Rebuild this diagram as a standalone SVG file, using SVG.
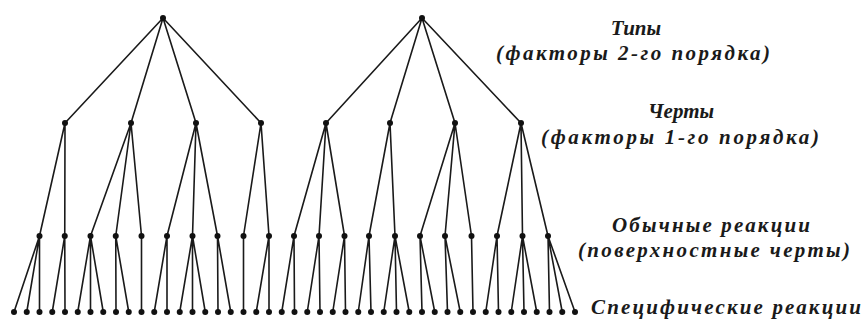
<svg xmlns="http://www.w3.org/2000/svg" width="864" height="320" viewBox="0 0 864 320">
<style>
.e{stroke:#1a1a1a;stroke-width:1.6;fill:none;stroke-linecap:round}
.n{fill:#111}
.t{font-family:"Liberation Serif","Times New Roman","DejaVu Serif",serif;font-style:italic;font-weight:bold;font-size:21px;fill:#1a1a1a;text-anchor:middle}
</style>
<rect width="864" height="320" fill="#fff"/>
<g id="connectors" class="e">
<path d="M163 18L65 123M163 18L131 123M163 18L196 123M163 18L261 123"/>
<path d="M422 18L326 123M422 18L390 123M422 18L455 123M422 18L521 123"/>
<path d="M65 123L39.5 236M65 123L64.75 236"/>
<path d="M131 123L90.5 236M131 123L115.75 236M131 123L141.5 236"/>
<path d="M196 123L167 236M196 123L192.5 236M196 123L217.5 236"/>
<path d="M261 123L243.5 236M261 123L269 236"/>
<path d="M326 123L294 236M326 123L319 236M326 123L344.5 236"/>
<path d="M390 123L369 236M390 123L395 236"/>
<path d="M455 123L420 236M455 123L445 236M455 123L471.5 236"/>
<path d="M521 123L497 236M521 123L522.5 236M521 123L548 236"/>
<path d="M39.5 236L14 312M39.5 236L26.75 312M39.5 236L39.5 312"/>
<path d="M64.75 236L52.25 312M64.75 236L65 312"/>
<path d="M90.5 236L77.75 312M90.5 236L90.5 312M90.5 236L103.25 312"/>
<path d="M115.75 236L116 312M115.75 236L128.75 312"/>
<path d="M141.5 236L141.5 312"/>
<path d="M167 236L154.25 312M167 236L167 312"/>
<path d="M192.5 236L179.75 312M192.5 236L192.5 312M192.5 236L205.25 312"/>
<path d="M217.5 236L218 312M217.5 236L230.75 312"/>
<path d="M243.5 236L243.5 312"/>
<path d="M269 236L256.25 312M269 236L269 312"/>
<path d="M294 236L281.75 312M294 236L294.5 312"/>
<path d="M319 236L307.25 312M319 236L320 312"/>
<path d="M344.5 236L332.75 312M344.5 236L345.5 312"/>
<path d="M369 236L358.25 312M369 236L371 312"/>
<path d="M395 236L383.75 312M395 236L396.5 312M395 236L409.25 312"/>
<path d="M420 236L422 312M420 236L434.75 312"/>
<path d="M445 236L447.5 312M445 236L460.25 312"/>
<path d="M471.5 236L473 312"/>
<path d="M497 236L485.75 312M497 236L498.5 312"/>
<path d="M522.5 236L511.25 312M522.5 236L524 312M522.5 236L536.75 312"/>
<path d="M548 236L549.5 312M548 236L562.25 312M548 236L575 312"/>
</g>
<g id="types" class="n">
<circle id="type1" cx="163" cy="18" r="3"/>
<circle id="type2" cx="422" cy="18" r="3"/>
</g>
<g id="traits" class="n">
<circle id="trait1" cx="65" cy="123" r="3"/>
<circle id="trait2" cx="131" cy="123" r="3"/>
<circle id="trait3" cx="196" cy="123" r="3"/>
<circle id="trait4" cx="261" cy="123" r="3"/>
<circle id="trait5" cx="326" cy="123" r="3"/>
<circle id="trait6" cx="390" cy="123" r="3"/>
<circle id="trait7" cx="455" cy="123" r="3"/>
<circle id="trait8" cx="521" cy="123" r="3"/>
</g>
<g id="habitual" class="n">
<circle cx="39.5" cy="236" r="3"/><circle cx="64.75" cy="236" r="3"/>
<circle cx="90.5" cy="236" r="3"/><circle cx="115.75" cy="236" r="3"/><circle cx="141.5" cy="236" r="3"/>
<circle cx="167" cy="236" r="3"/><circle cx="192.5" cy="236" r="3"/><circle cx="217.5" cy="236" r="3"/>
<circle cx="243.5" cy="236" r="3"/><circle cx="269" cy="236" r="3"/>
<circle cx="294" cy="236" r="3"/><circle cx="319" cy="236" r="3"/><circle cx="344.5" cy="236" r="3"/>
<circle cx="369" cy="236" r="3"/><circle cx="395" cy="236" r="3"/>
<circle cx="420" cy="236" r="3"/><circle cx="445" cy="236" r="3"/><circle cx="471.5" cy="236" r="3"/>
<circle cx="497" cy="236" r="3"/><circle cx="522.5" cy="236" r="3"/><circle cx="548" cy="236" r="3"/>
</g>
<g id="specific" class="n">
<circle cx="14" cy="312" r="3"/><circle cx="26.75" cy="312" r="3"/><circle cx="39.5" cy="312" r="3"/>
<circle cx="52.25" cy="312" r="3"/><circle cx="65" cy="312" r="3"/><circle cx="77.75" cy="312" r="3"/>
<circle cx="90.5" cy="312" r="3"/><circle cx="103.25" cy="312" r="3"/><circle cx="116" cy="312" r="3"/>
<circle cx="128.75" cy="312" r="3"/><circle cx="141.5" cy="312" r="3"/><circle cx="154.25" cy="312" r="3"/>
<circle cx="167" cy="312" r="3"/><circle cx="179.75" cy="312" r="3"/><circle cx="192.5" cy="312" r="3"/>
<circle cx="205.25" cy="312" r="3"/><circle cx="218" cy="312" r="3"/><circle cx="230.75" cy="312" r="3"/>
<circle cx="243.5" cy="312" r="3"/><circle cx="256.25" cy="312" r="3"/><circle cx="269" cy="312" r="3"/>
<circle cx="281.75" cy="312" r="3"/><circle cx="294.5" cy="312" r="3"/><circle cx="307.25" cy="312" r="3"/>
<circle cx="320" cy="312" r="3"/><circle cx="332.75" cy="312" r="3"/><circle cx="345.5" cy="312" r="3"/>
<circle cx="358.25" cy="312" r="3"/><circle cx="371" cy="312" r="3"/><circle cx="383.75" cy="312" r="3"/>
<circle cx="396.5" cy="312" r="3"/><circle cx="409.25" cy="312" r="3"/><circle cx="422" cy="312" r="3"/>
<circle cx="434.75" cy="312" r="3"/><circle cx="447.5" cy="312" r="3"/><circle cx="460.25" cy="312" r="3"/>
<circle cx="473" cy="312" r="3"/><circle cx="485.75" cy="312" r="3"/><circle cx="498.5" cy="312" r="3"/>
<circle cx="511.25" cy="312" r="3"/><circle cx="524" cy="312" r="3"/><circle cx="536.75" cy="312" r="3"/>
<circle cx="549.5" cy="312" r="3"/><circle cx="562.25" cy="312" r="3"/><circle cx="575" cy="312" r="3"/>
</g>
<g id="labels">
<text class="t" x="636" y="35">Типы</text>
<text class="t" x="633" y="60" textLength="274" lengthAdjust="spacing">(факторы 2-го порядка)</text>
<text class="t" x="681" y="118">Черты</text>
<text class="t" x="680" y="144" textLength="278" lengthAdjust="spacing">(факторы 1-го порядка)</text>
<text class="t" x="711" y="232" textLength="198" lengthAdjust="spacing">Обычные реакции</text>
<text class="t" x="714" y="257" textLength="272" lengthAdjust="spacing">(поверхностные черты)</text>
<text class="t" x="726" y="314" textLength="270" lengthAdjust="spacing">Специфические реакции</text>
</g>
</svg>
